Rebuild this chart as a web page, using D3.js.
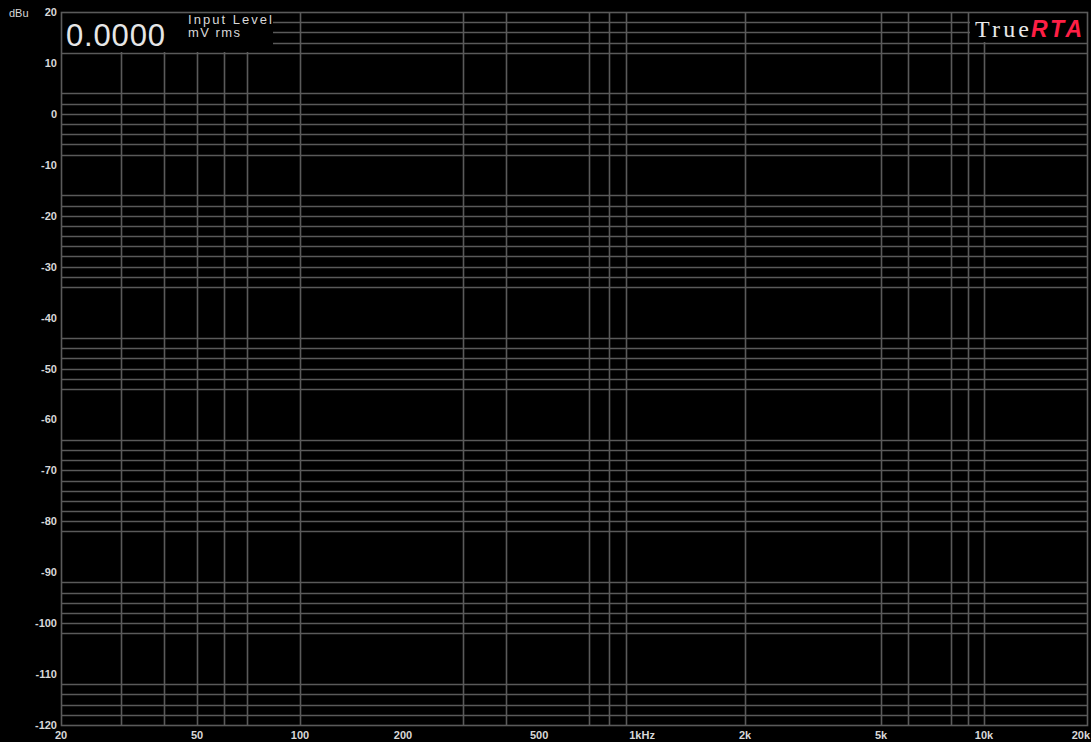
<!DOCTYPE html>
<html>
<head>
<meta charset="utf-8">
<script src="https://cdn.jsdelivr.net/npm/d3@7"></script>
<style>
  html, body { margin: 0; padding: 0; background: #000; overflow: hidden; }
  svg text { font-family: "Liberation Sans", Arial, sans-serif; fill: #d8d8d8; }
</style>
</head>
<body>
<div id="chart"></div>
<script>
// frequencies (Hz) where the grid shows a vertical line
var xGridHz = [30, 40, 50, 60, 70, 100, 300, 400, 700, 800, 900, 2000, 5000, 6000, 8000, 9000, 10000];
// levels (dBu) where the grid shows a horizontal line
var yGridDb = [18, 16, 14, 12, 4, 2, 0, -2, -4, -6, -8,
  -16, -18, -20, -22, -24, -26, -28, -30, -32, -34,
  -44, -46, -48, -50, -52, -54,
  -64, -66, -68, -70, -72, -74, -76, -78, -80, -82,
  -92, -94, -96, -98, -100, -102,
  -112, -114, -116, -118];
var xTickHz = [20, 50, 100, 200, 500, 1000, 2000, 5000, 10000, 20000];
var xTickText = ['20', '50', '100', '200', '500', '1kHz', '2k', '5k', '10k', '20k'];
var yTickDb = [20, 10, 0, -10, -20, -30, -40, -50, -60, -70, -80, -90, -100, -110, -120];
var readout = '0.0000';
var readoutLines = ['Input Level', 'mV rms'];

var W = 1091, H = 742;
var m = {left: 61, right: 4, top: 12, bottom: 17};

var svg = d3.select('#chart').append('svg')
  .attr('width', W)
  .attr('height', H);

svg.append('rect').attr('width', W).attr('height', H).attr('fill', '#000');

var x = d3.scaleLog()
  .domain([20, 20000])
  .range([m.left, W - m.right]);

var y = d3.scaleLinear()
  .domain([20, -120])
  .range([m.top, H - m.bottom]);

var gridColor = '#5a5a5a';
var grid = svg.append('g').attr('stroke', gridColor).attr('stroke-width', 1.6);

grid.selectAll('line.h')
  .data(yGridDb)
  .enter().append('line')
  .attr('class', 'h')
  .attr('x1', x(20)).attr('x2', x(20000))
  .attr('y1', function(d) { return Math.round(y(d)) + 0.5; })
  .attr('y2', function(d) { return Math.round(y(d)) + 0.5; });

grid.selectAll('line.v')
  .data(xGridHz)
  .enter().append('line')
  .attr('class', 'v')
  .attr('y1', y(20)).attr('y2', y(-120))
  .attr('x1', function(d) { return Math.round(x(d)) + 0.5; })
  .attr('x2', function(d) { return Math.round(x(d)) + 0.5; });

// readout box in the top left corner hides the grid behind it
var boxRight = 273;
svg.append('rect')
  .attr('x', x(20)).attr('y', y(20))
  .attr('width', boxRight - x(20))
  .attr('height', Math.round(y(12)) - y(20) - 1)
  .attr('fill', '#000');

// logo box in the top right corner
var logoLeft = Math.round(x(9000)) + 2;
svg.append('rect')
  .attr('x', logoLeft).attr('y', y(20))
  .attr('width', x(20000) - logoLeft)
  .attr('height', Math.round(y(14)) - y(20) - 1)
  .attr('fill', '#000');

// plot border
svg.append('rect')
  .attr('x', Math.round(x(20)) + 0.5).attr('y', Math.round(y(20)) + 0.5)
  .attr('width', Math.round(x(20000)) - Math.round(x(20)))
  .attr('height', Math.round(y(-120)) - Math.round(y(20)))
  .attr('fill', 'none')
  .attr('stroke', gridColor)
  .attr('stroke-width', 1.6);

// y tick labels
svg.append('g').selectAll('text')
  .data(yTickDb)
  .enter().append('text')
  .attr('x', m.left - 4)
  .attr('y', function(d) { return y(d) + 4; })
  .attr('text-anchor', 'end')
  .style('font-size', '11px')
  .style('font-weight', 'bold')
  .text(function(d) { return d; });

svg.append('text')
  .attr('x', 9).attr('y', 17)
  .style('font-size', '11px')
  .text('dBu');

// x tick labels; the last one sits flush with the right edge
svg.append('g').selectAll('text')
  .data(xTickHz)
  .enter().append('text')
  .attr('x', function(d, i) { return i === xTickHz.length - 1 ? W - 1 : x(d); })
  .attr('y', H - 3)
  .attr('text-anchor', function(d, i) { return i === xTickHz.length - 1 ? 'end' : 'middle'; })
  .style('font-size', '11px')
  .style('font-weight', 'bold')
  .text(function(d, i) { return xTickText[i]; });

// readout
svg.append('text')
  .attr('x', 66).attr('y', 46)
  .attr('textLength', 99)
  .style('font-size', '31px')
  .style('fill', '#e6e6e6')
  .text(readout);

svg.append('g').selectAll('text')
  .data(readoutLines)
  .enter().append('text')
  .attr('x', 188)
  .attr('y', function(d, i) { return 24 + i * 13; })
  .attr('textLength', function(d, i) { return i === 0 ? 84 : 52; })
  .style('font-size', '13px')
  .text(function(d) { return d; });

// logo
svg.append('text')
  .attr('x', 975).attr('y', 37)
  .attr('textLength', 54)
  .style('font-family', '"Liberation Serif", "DejaVu Serif", serif')
  .style('font-size', '24px')
  .style('fill', '#e8e8e8')
  .text('True');
svg.append('text')
  .attr('x', 1031).attr('y', 37)
  .attr('textLength', 51)
  .style('font-size', '23px')
  .style('font-weight', 'bold')
  .style('font-style', 'italic')
  .style('fill', '#ff1f45')
  .text('RTA');
</script>
</body>
</html>
